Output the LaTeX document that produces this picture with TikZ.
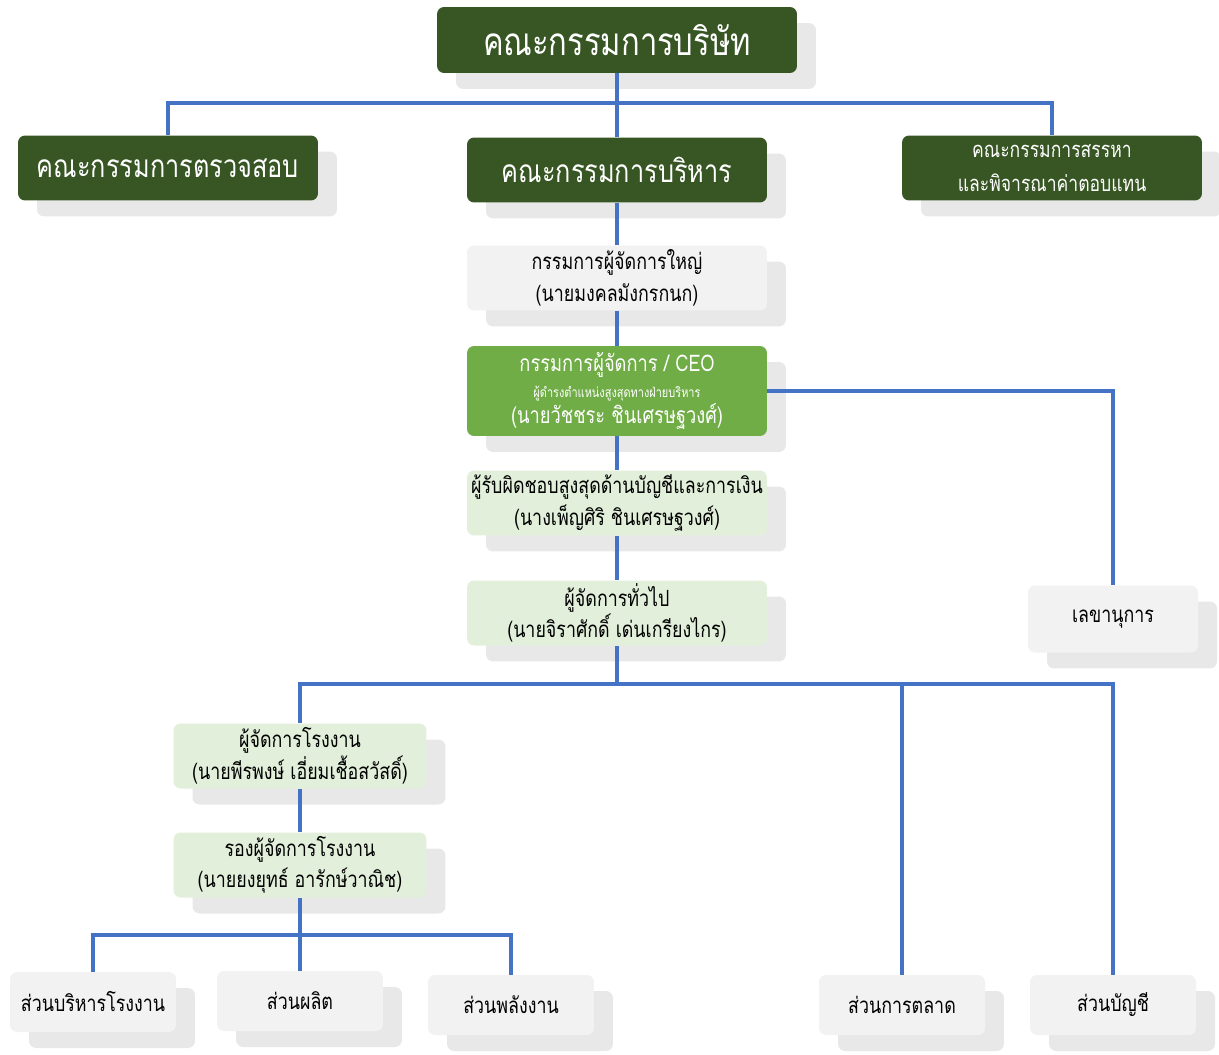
\documentclass[tikz,border=0pt]{standalone}
\usepackage{fontspec}
\setmainfont[Script=Thai,FakeStretch=0.8]{Loma}
\usetikzlibrary{shadows}
\definecolor{boardgreen}{RGB}{55,86,35}
\definecolor{ceogreen}{RGB}{112,173,71}
\definecolor{palegreen}{RGB}{226,239,218}
\definecolor{palegray}{RGB}{242,242,242}
\definecolor{lineblue}{RGB}{68,114,196}

\begin{document}
\begin{tikzpicture}[x=0.02cm,y=-0.02cm,
    box/.style={rounded corners=4pt, inner sep=0pt, align=center,
      minimum width=6cm, minimum height=1.3cm,
      drop shadow={shadow xshift=0.38cm, shadow yshift=-0.32cm, fill=black!18}},
    darkbox/.style={box, fill=boardgreen, text=white, font=\fontsize{18}{22}\selectfont},
    greenbox/.style={box, fill=palegreen, font=\fontsize{12.7}{18}\selectfont},
    graybox/.style={box, fill=palegray, font=\fontsize{12.7}{18}\selectfont},
    conn/.style={draw=lineblue, line width=2.2pt}]
  \useasboundingbox (0,0) rectangle (1219,1054);

  % board and committees
  \node[darkbox, minimum width=7.2cm, minimum height=1.32cm, font=\fontsize{22}{26}\selectfont] (board) at (617,40) {คณะกรรมการบริษัท};
  \node[darkbox] (audit) at (168,168) {คณะกรรมการตรวจสอบ};
  \node[darkbox] (exec) at (617,170) {คณะกรรมการบริหาร};
  \node[darkbox, font=\fontsize{12.5}{19}\selectfont] (nomin) at (1052,168) {คณะกรรมการสรรหา\\และพิจารณาค่าตอบแทน};

  % management
  \node[graybox] (president) at (617,278) {กรรมการผู้จัดการใหญ่\\(นายมงคลมังกรกนก)};
  \node[box, fill=ceogreen, text=white, minimum height=1.8cm, font=\fontsize{13}{15}\selectfont] (ceo) at (617,391)
    {กรรมการผู้จัดการ / CEO\\{\fontsize{7.8}{9}\selectfont ผู้ดำรงตำแหน่งสูงสุดทางฝ่ายบริหาร}\\(นายวัชชระ ชินเศรษฐวงศ์)};
  \node[greenbox] (cfo) at (617,503) {ผู้รับผิดชอบสูงสุดด้านบัญชีและการเงิน\\(นางเพ็ญศิริ ชินเศรษฐวงศ์)};
  \node[greenbox] (gm) at (617,613) {ผู้จัดการทั่วไป\\(นายจิราศักดิ์ เด่นเกรียงไกร)};
  \node[graybox, minimum width=3.4cm, minimum height=1.34cm] (secretary) at (1113,619) {เลขานุการ};

  % plant
  \node[greenbox, minimum width=5.06cm] (plant) at (300,756) {ผู้จัดการโรงงาน\\(นายพีรพงษ์ เอี่ยมเชื้อสวัสดิ์)};
  \node[greenbox, minimum width=5.06cm] (deputy) at (300,865) {รองผู้จัดการโรงงาน\\(นายยงยุทธ์ อารักษ์วาณิช)};

  % departments
  \tikzset{dept/.style={graybox, minimum width=3.32cm, minimum height=1.2cm}}
  \node[dept] (admin) at (93,1002) {ส่วนบริหารโรงงาน};
  \node[dept] (prod) at (300,1001) {ส่วนผลิต};
  \node[dept] (energy) at (511,1005) {ส่วนพลังงาน};
  \node[dept] (mkt) at (902,1005) {ส่วนการตลาด};
  \node[dept] (acct) at (1113,1005) {ส่วนบัญชี};

  % connectors
  \coordinate (j1) at (617,103);
  \coordinate (j2) at (617,684);
  \coordinate (j3) at (300,935);
  \draw[conn] (board) -- (exec);
  \draw[conn] (audit) |- (j1) -| (nomin);
  \draw[conn] (exec) -- (president);
  \draw[conn] (president) -- (ceo);
  \draw[conn] (ceo) -- (cfo);
  \draw[conn] (cfo) -- (gm);
  \draw[conn] (ceo.east) -| (secretary.north);
  \draw[conn] (gm) -- (j2);
  \draw[conn] (plant.north) |- (j2) -| (acct.north);
  \draw[conn] (j2) -| (mkt.north);
  \draw[conn] (plant) -- (deputy);
  \draw[conn] (deputy) -- (j3);
  \draw[conn] (admin.north) |- (j3) -| (energy.north);
  \draw[conn] (j3) -- (prod);
\end{tikzpicture}
\end{document}
